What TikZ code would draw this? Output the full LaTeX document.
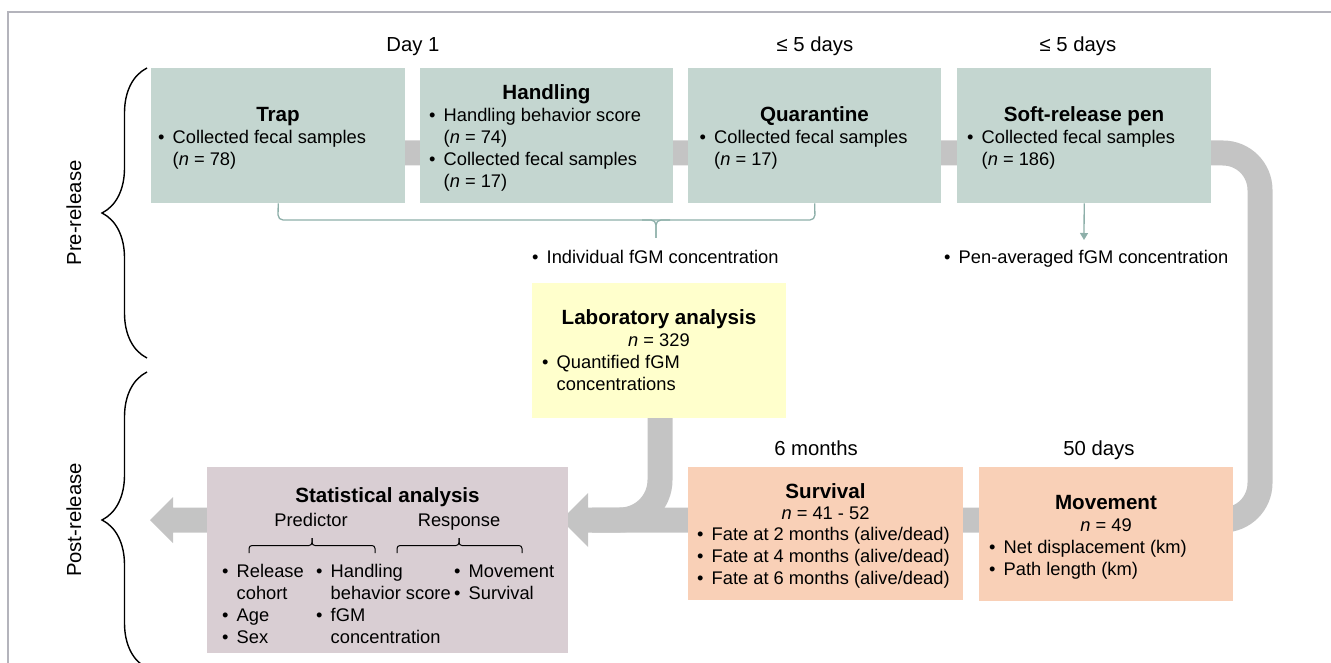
\documentclass[tikz,border=0pt]{standalone}
\usepackage{fontspec}
\setmainfont{Liberation Sans}
\usetikzlibrary{arrows.meta,decorations.pathreplacing}
\definecolor{boxgreen}{HTML}{C4D6D0}
\definecolor{boxyellow}{HTML}{FFFFCC}
\definecolor{boxpeach}{HTML}{F9D0B7}
\definecolor{boxmauve}{HTML}{D9CED3}
\definecolor{bandgray}{HTML}{C4C4C4}
\definecolor{linkteal}{HTML}{8DAFA9}
\definecolor{framegray}{HTML}{B4B4BC}
\newcommand\itm{\makebox[14.5pt][l]{•}}
\newcommand\hng{\hspace*{14.5pt}}
\begin{document}
\begin{tikzpicture}[x=1pt,y=-1pt,
  box/.style={inner sep=0, anchor=north west, draw=none},
  lbl/.style={font=\fontsize{20.3}{24}\selectfont, anchor=base, inner sep=0},
  ttl/.style={font=\fontsize{20.6}{24}\bfseries, anchor=base, inner sep=0},
  txt/.style={font=\fontsize{18.3}{22}\selectfont, anchor=base west, inner sep=0, align=left},
  ctxt/.style={font=\fontsize{18.3}{22}\selectfont, anchor=base, inner sep=0},
  band/.style={draw=bandgray, line width=25pt},
  bandfill/.style={fill=bandgray},
  link/.style={draw=linkteal, line width=1.3pt},
  bigbrace/.style={draw=black, line width=1.4pt, decorate, decoration={brace, amplitude=45pt, aspect=0.5}},
  bracket/.style={draw=black, line width=1pt, rounded corners=3pt}]
\useasboundingbox (0,0) rectangle (1331,663);

% outer frame
\draw[framegray, line width=1.3pt] (1331,12) -- (8,12) -- (8,670);

% connector bands (drawn under the boxes)
\draw[band, rounded corners=37pt] (280,153) -- (1260,153) -- (1260,520) -- (1200,520);
\fill[bandfill] (1000,507.5) -- (588,507.5) -- (588,493) -- (561,520) -- (588,547) -- (588,532.5) -- (1000,532.5) -- cycle;
\draw[band, rounded corners=40pt] (660,410) -- (660,520) -- (592,520);
\fill[bandfill] (215,507.5) -- (173,507.5) -- (173,497) -- (150,520) -- (173,543) -- (173,532.5) -- (215,532.5) -- cycle;

% pre-release boxes (multi-line texts are placed by their last baseline)
\node[box, fill=boxgreen, minimum width=254pt, minimum height=135pt] (trap) at (151,68) {};
\node[box, fill=boxgreen, minimum width=253pt, minimum height=135pt] (hand) at (420,68) {};
\node[box, fill=boxgreen, minimum width=253pt, minimum height=135pt] (quar) at (688,68) {};
\node[box, fill=boxgreen, minimum width=254pt, minimum height=135pt] (soft) at (957,68) {};

\node[ttl] (trapT) at (278,122) {Trap};
\node[txt] (trapB) at (158,166) {\itm Collected fecal samples\\\hng(\textit{n} = 78)};
\node[ttl] (handT) at (546.5,100) {Handling};
\node[txt] (handB) at (429,188) {\itm Handling behavior score\\\hng(\textit{n} = 74)\\\itm Collected fecal samples\\\hng(\textit{n} = 17)};
\node[ttl] (quarT) at (814.5,122) {Quarantine};
\node[txt] (quarB) at (699.5,166) {\itm Collected fecal samples\\\hng(\textit{n} = 17)};
\node[ttl] (softT) at (1084,122) {Soft-release pen};
\node[txt] (softB) at (967,166) {\itm Collected fecal samples\\\hng(\textit{n} = 186)};

% time labels
\node[lbl] (day1) at (413,52) {Day 1};
\node[lbl] (d5a) at (815,52) {≤ 5 days};
\node[lbl] (d5b) at (1078,52) {≤ 5 days};
\node[lbl] (m6) at (816,455) {6 months};
\node[lbl] (d50) at (1099,455) {50 days};

% fGM outputs
\node[txt] (indiv) at (532,263) {\itm Individual fGM concentration};
\node[txt] (pen) at (944,263) {\itm Pen-averaged fGM concentration};
\draw[link, rounded corners=5pt] (trap.south) -- (278,220) -- (815,220) -- (quar.south);
\draw[link, rounded corners=5pt] (642,220) -- (656,220) -- (656,238);
\draw[link, rounded corners=5pt] (670,220) -- (656,220) -- (656,238);
\draw[link, -{Triangle[width=8pt,length=7pt]}] (soft.south) -- (1084,240);

% laboratory analysis
\node[box, fill=boxyellow, minimum width=254pt, minimum height=135pt] (lab) at (532,283) {};
\node[ttl] (labT) at (659,324) {Laboratory analysis};
\node[ctxt] (labN) at (659,346) {\textit{n} = 329};
\node[txt] (labB) at (542,390) {\itm Quantified fGM\\\hng concentrations};

% post-release boxes
\node[box, fill=boxpeach, minimum width=275pt, minimum height=133pt] (surv) at (688,467) {};
\node[ttl] (survT) at (825.5,498) {Survival};
\node[ctxt] (survN) at (825.5,519) {\textit{n} = 41 - 52};
\node[txt] (survB) at (697,584) {\itm Fate at 2 months (alive/dead)\\\itm Fate at 4 months (alive/dead)\\\itm Fate at 6 months (alive/dead)};

\node[box, fill=boxpeach, minimum width=254pt, minimum height=134pt] (move) at (979,467) {};
\node[ttl] (moveT) at (1106,509) {Movement};
\node[ctxt] (moveN) at (1106,531) {\textit{n} = 49};
\node[txt] (moveB) at (989,575) {\itm Net displacement (km)\\\itm Path length (km)};

% statistical analysis
\node[box, fill=boxmauve, minimum width=361pt, minimum height=186pt] (stat) at (207,467) {};
\node[ttl] (statT) at (387.5,502) {Statistical analysis};
\node[ctxt] (pred) at (311,526) {Predictor};
\node[ctxt] (resp) at (459,526) {Response};
\draw[bracket] (249,553) -- (249,545.5) -- (312,545.5) -- (312,538);
\draw[bracket] (375,553) -- (375,545.5) -- (312,545.5) -- (312,538);
\draw[bracket] (397,553) -- (397,545.5) -- (459,545.5) -- (459,538);
\draw[bracket] (522,553) -- (522,545.5) -- (459,545.5) -- (459,538);
\node[txt] (col1) at (222,643) {\itm Release\\\hng cohort\\\itm Age\\\itm Sex};
\node[txt] (col2) at (316,643) {\itm Handling\\\hng behavior score\\\itm fGM\\\hng concentration};
\node[txt] (col3) at (454,599) {\itm Movement\\\itm Survival};

% phase braces
\draw[bigbrace] (147,358) -- (147,68);
\draw[bigbrace] (147,668) -- (147,372);
\node[lbl, rotate=90] (pre) at (81,213) {Pre-release};
\node[lbl, rotate=90] (post) at (81,520) {Post-release};
\end{tikzpicture}
\end{document}
